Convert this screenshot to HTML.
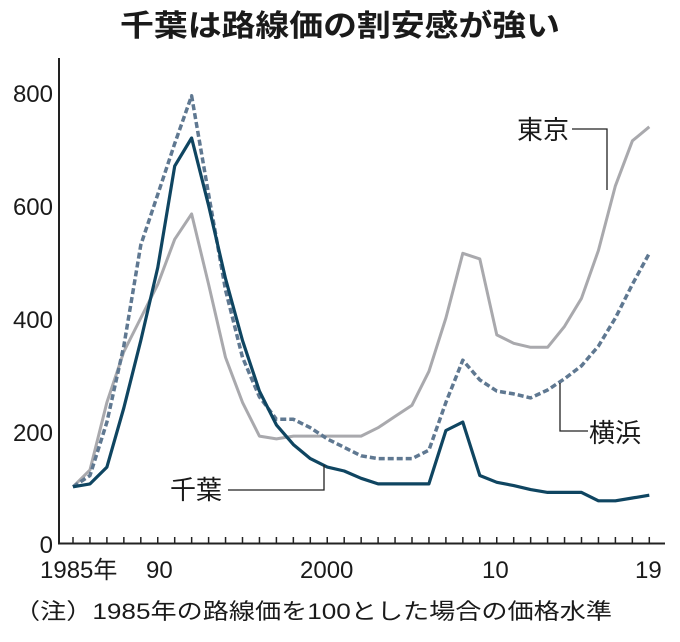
<!DOCTYPE html>
<html><head><meta charset="utf-8"><style>
body{margin:0;background:#fff;width:680px;height:637px;overflow:hidden}
text{font-family:"Liberation Sans","Noto Sans CJK JP",sans-serif;fill:#1a1a1a}
</style></head><body>
<svg id="s" width="680" height="637" viewBox="0 0 680 637">
<text x="120" y="36" font-size="30" font-weight="bold" textLength="440" lengthAdjust="spacingAndGlyphs">千葉は路線価の割安感が強い</text>
<line x1="59" y1="58" x2="59" y2="544" stroke="#222" stroke-width="2"/>
<line x1="58" y1="543.5" x2="665" y2="543.5" stroke="#222" stroke-width="2"/>
<g font-size="24" text-anchor="end" id="yl">
<text x="53" y="102">800</text><text x="53" y="215">600</text><text x="53" y="328">400</text><text x="53" y="441">200</text><text x="53" y="553">0</text>
</g>
<g id="ticks" stroke="#222" stroke-width="1.5"></g>
<g id="lines"></g>
<g font-size="24">
<text x="40" y="578">1985年</text><text x="146" y="578">90</text><text x="300" y="578">2000</text><text x="482" y="578">10</text><text x="635" y="578">19</text>
</g>
<g font-size="26">
<text x="517" y="139">東京</text><text x="589" y="442">横浜</text><text x="170" y="499">千葉</text>
</g>
<g stroke="#222" stroke-width="1.3" fill="none">
<polyline points="572,129 607,129 607,190"/>
<polyline points="560,383 560,431 588,431"/>
<polyline points="228,490 324,490 324,465"/>
</g>
<text x="14" y="619" font-size="22" textLength="598" lengthAdjust="spacingAndGlyphs">（注）1985年の路線価を100とした場合の価格水準</text>
</svg>
<script>
var X=function(y){return 73+16.95*(y-1985)},Y=function(v){return 543-v*0.5625};
var t=document.getElementById('ticks'),h='';
for(var y=1985;y<=2019;y++){h+='<line x1="'+X(y)+'" y1="537" x2="'+X(y)+'" y2="543"/>';}
t.innerHTML=h;
var tk=[100,130,250,340,400,460,540,585,460,330,250,190,185,190,190,190,190,190,205,225,245,305,400,515,505,370,355,348,348,385,435,520,635,715,740];
var yk=[100,120,215,350,530,620,710,795,620,450,330,260,220,220,205,185,170,155,150,150,150,165,250,325,290,270,265,258,272,292,315,350,400,460,515];
var cb=[100,105,135,240,360,490,670,720,600,470,360,270,210,175,150,135,128,115,105,105,105,105,200,215,120,108,102,95,90,90,90,75,75,80,85];
function pl(a,st){var p=a.map(function(v,i){return X(1985+i).toFixed(1)+','+Y(v).toFixed(1)}).join(' ');return '<polyline points="'+p+'" fill="none" stroke-linejoin="round" '+st+'/>';}
document.getElementById('lines').innerHTML=pl(tk,'stroke="#a9a9ad" stroke-width="3"')+pl(yk,'stroke="#5f7891" stroke-width="3.5" stroke-dasharray="6,3"')+pl(cb,'stroke="#0f4561" stroke-width="3.2"');
</script>
</body></html>
